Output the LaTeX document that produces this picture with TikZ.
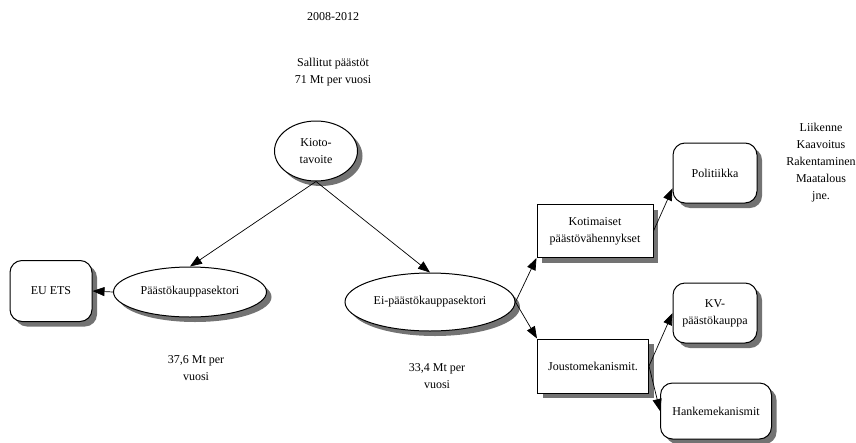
\documentclass[tikz,border=0pt]{standalone}
\usepackage{fontspec}
\setmainfont{Liberation Serif}
\usetikzlibrary{shapes.geometric,shadows,arrows.meta}

\tikzset{
  shade node/.style={draw,line width=1pt,fill=white,inner sep=0pt,align=center,
    drop shadow={shadow xshift=5pt,shadow yshift=-5pt,fill=black!55,opacity=1}},
  oval node/.style={shade node,ellipse},
  box node/.style={shade node,rectangle},
  round node/.style={shade node,rectangle,rounded corners=12pt},
  note node/.style={align=center,inner sep=0pt}
}

\begin{document}
\begin{tikzpicture}[x=1pt,y=-1pt,font=\fontsize{12}{17}\selectfont]
  \useasboundingbox (0,0) rectangle (856,442);

  \node[note node] (years) at (333,17) {2008-2012};
  \node[note node] (allowed) at (333,72) {Sallitut päästöt\\71 Mt per vuosi};

  \node[oval node,minimum width=83,minimum height=60] (kioto) at (316,151) {Kioto-\\tavoite};
  \node[oval node,minimum width=153,minimum height=50] (trade) at (190,292) {Päästökauppasektori};
  \node[round node,minimum width=82,minimum height=61] (euets) at (51,291) {EU ETS};
  \node[oval node,minimum width=170,minimum height=58] (nontrade) at (430,302) {Ei-päästökauppasektori};
  \node[box node,minimum width=116,minimum height=53] (domestic) at (595,231) {Kotimaiset\\päästövähennykset};
  \node[round node,minimum width=84,minimum height=60] (policy) at (715,173) {Politiikka};
  \node[box node,minimum width=111,minimum height=54] (flex) at (593,366) {Joustomekanismit.};
  \node[round node,minimum width=84,minimum height=60] (kv) at (715,313) {KV-\\päästökauppa};
  \node[round node,minimum width=111,minimum height=56] (project) at (716,411) {Hankemekanismit};

  \node[note node] (tradeamount) at (196,368) {37,6 Mt per\\vuosi};
  \node[note node] (nontradeamount) at (437,376) {33,4 Mt per\\vuosi};
  \node[note node] (sectors) at (821,163) {Liikenne\\Kaavoitus\\Rakentaminen\\Maatalous\\jne.};

  \path[->,>={Triangle[length=12pt,width=9pt]},line width=0.7pt]
    (kioto.south) edge (trade.north)
                  edge (nontrade.north)
    (trade.west) edge (euets.east)
    (nontrade.east) edge (domestic.south west)
                    edge (flex.north west)
    (domestic.east) edge (policy.200)
    (flex.east) edge (kv.west)
                edge (project.west);

\end{tikzpicture}
\end{document}
